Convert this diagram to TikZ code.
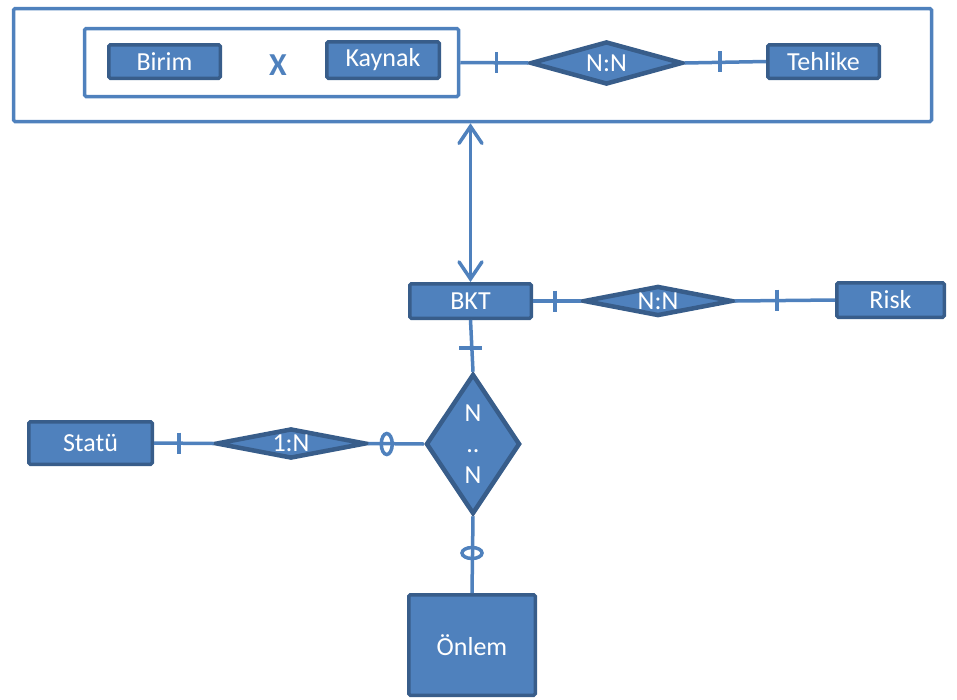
\documentclass[tikz,border=0pt]{standalone}
\usepackage{fontspec}
\setmainfont{Carlito}
\usetikzlibrary{shapes.geometric,arrows.meta,calc}
\definecolor{efill}{HTML}{4F81BD}
\definecolor{edraw}{HTML}{385D8A}
\definecolor{lblue}{HTML}{4F81BD}
\begin{document}
\begin{tikzpicture}[x=1pt,y=-1pt,
  txt/.style={font=\fontsize{26}{30}\selectfont, text=white},
  ent/.style={rectangle, draw=edraw, fill=efill, line width=3.5pt, inner sep=0pt, rounded corners=1.5pt, txt},
  rel/.style={diamond, draw=edraw, fill=efill, line width=4.5pt, inner sep=0pt, txt},
  conn/.style={draw=lblue, line width=3.5pt},
  frame/.style={rectangle, draw=lblue, line width=3.5pt, inner sep=0pt, rounded corners=1.5pt},
  barb/.tip={Straight Barb[length=17pt,width=23pt,line cap=round]}]
\useasboundingbox (0,0) rectangle (957,699);
% top group
\node[frame, minimum width=918, minimum height=113] (outer) at (472.5,65) {};
\node[frame, minimum width=374, minimum height=68] (inner) at (271.5,62.5) {};
\node[ent, minimum width=111.5, minimum height=33.5] (birim) at (164.5,61.5) {Birim};
\node[font=\fontsize{32}{34}\selectfont\bfseries, text=lblue] (xsign) at (278,65) {X};
\node[ent, minimum width=112.5, minimum height=36.5] (kaynak) at (383,60) {Kaynak};
\node[rel, aspect=3, minimum width=152, minimum height=43] (nn1) at (606.5,63) {N:N};
\node[ent, minimum width=111.5, minimum height=33.5] (tehlike) at (823.5,61.5) {Tehlike};
% middle
\node[ent, minimum width=121.5, minimum height=34.5] (bkt) at (470.5,301) {BKT};
\node[rel, aspect=4.5, minimum width=149, minimum height=30] (nn2) at (658,301) {N:N};
\node[ent, minimum width=107.5, minimum height=34.5] (risk) at (890.5,300) {Risk};
% lower
\node[ent, minimum width=123.5, minimum height=42.5] (statu) at (90.5,443) {Statü};
\node[rel, aspect=4.5, minimum width=150, minimum height=30] (onen) at (291,443.5) {1:N};
\node[rel, aspect=0.65, minimum width=94, minimum height=140] (nnb) at (473,444) {};
\node[txt, align=center, font=\fontsize{26}{31}\selectfont] (nnt) at (nnb.center) {N\\..\\N};
\node[ent, minimum width=126.5, minimum height=100.5] (onlem) at (472,645) {Önlem};
% connectors
\draw[conn] (inner.east) -- (nn1.west);
\draw[conn] ([xshift=36]inner.east) ++(0,-10.5) -- ++(0,21);
\draw[conn] (nn1.east) -- (tehlike.west);
\draw[conn] ([xshift=-46]tehlike.west) ++(0,-10.5) -- ++(0,21);
\draw[conn, barb-barb] (bkt.north |- outer.south) -- (bkt.north);
\draw[conn] (bkt.east) -- (nn2.west);
\draw[conn] ([xshift=22]bkt.east) ++(0,-10.5) -- ++(0,21);
\draw[conn] (nn2.east) -- (risk.west);
\draw[conn] ([xshift=-58]risk.west) ++(0,-10.5) -- ++(0,21);
\draw[conn] (statu.east) -- (onen.west);
\draw[conn] ([xshift=25]statu.east) ++(0,-10.5) -- ++(0,21);
\draw[conn] (onen.east) -- (nnb.west);
\draw[conn] ([xshift=-37]nnb.west) ellipse[x radius=5.5pt, y radius=10.5pt];
\draw[conn] (bkt.south) -- (nnb.north);
\draw[conn] ([yshift=-28]bkt.south) ++(-11.5,0) -- ++(23,0);
\draw[conn] (nnb.south) -- (onlem.north);
\draw[conn] ([yshift=40]onlem.north) ellipse[x radius=10pt, y radius=5.5pt];
\end{tikzpicture}
\end{document}
